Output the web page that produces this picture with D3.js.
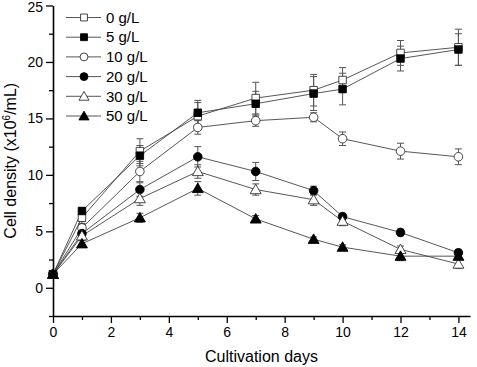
<!DOCTYPE html>
<html>
<head>
<meta charset="utf-8">
<script src="https://cdn.jsdelivr.net/npm/d3@7"></script>
<style>
  body { margin: 0; background: #fff; }
  svg { font-family: Arial, "Liberation Sans", sans-serif; }
</style>
</head>
<body>
<svg id="chart" width="477" height="367"></svg>
<script>
// cultivation days
var days = [0, 1, 3, 5, 7, 9, 10, 12, 14];

// cell density (x10^6/mL) per NaCl concentration, with error bars
var g0 = [1.2, 6.2, 12.1, 15.2, 16.8, 17.5, 18.4, 20.8, 21.3];
var g0Err = [0.2, 0.5, 1.1, 1.2, 1.4, 1.4, 1.1, 1.1, 1.6];
var g5 = [1.2, 6.8, 11.7, 15.5, 16.3, 17.2, 17.6, 20.3, 21.1];
var g5Err = [0.2, 0.3, 0.9, 1.1, 1.1, 1.5, 1.4, 1.1, 1.4];
var g10 = [1.2, 5.3, 10.3, 14.2, 14.8, 15.1, 13.2, 12.1, 11.6];
var g10Err = [0.2, 0.4, 0.9, 0.6, 0.5, 0.4, 0.6, 0.7, 0.7];
var g20 = [1.2, 4.8, 8.7, 11.6, 10.3, 8.6, 6.3, 4.9, 3.1];
var g20Err = [0.2, 0.4, 0.6, 0.9, 0.8, 0.4, 0.3, 0.3, 0.3];
var g30 = [1.2, 4.6, 7.9, 10.3, 8.7, 7.8, 5.9, 3.4, 2.1];
var g30Err = [0.2, 0.4, 0.6, 0.6, 0.5, 0.5, 0.4, 0.3, 0.4];
var g50 = [1.2, 3.9, 6.2, 8.8, 6.1, 4.3, 3.6, 2.8, 2.8];
var g50Err = [0.2, 0.3, 0.4, 0.6, 0.3, 0.2, 0.2, 0.4, 0.3];

var labels = ['0 g/L', '5 g/L', '10 g/L', '20 g/L', '30 g/L', '50 g/L'];
var xTicks = [0, 2, 4, 6, 8, 10, 12, 14];
var yTicks = [0, 5, 10, 15, 20, 25];

var series = [
  {name: labels[0], values: g0, err: g0Err, shape: d3.symbolSquare, filled: false},
  {name: labels[1], values: g5, err: g5Err, shape: d3.symbolSquare, filled: true},
  {name: labels[2], values: g10, err: g10Err, shape: d3.symbolCircle, filled: false},
  {name: labels[3], values: g20, err: g20Err, shape: d3.symbolCircle, filled: true},
  {name: labels[4], values: g30, err: g30Err, shape: d3.symbolTriangle, filled: false},
  {name: labels[5], values: g50, err: g50Err, shape: d3.symbolTriangle, filled: true}
];

var margin = {left: 53, top: 5.5, right: 7, bottom: 51},
    width = 477 - margin.left - margin.right,
    height = 367 - margin.top - margin.bottom;

var lineColor = '#444',
    errColor = '#555';

var svg = d3.select('#chart');
var g = svg.append('g')
    .attr('transform', 'translate(' + margin.left + ',' + margin.top + ')');

var x = d3.scaleLinear().domain([0, 14.4]).range([0, width]);
var y = d3.scaleLinear().domain([-2.5, 25]).range([height, 0]);

// axes, major + minor ticks
var xMinor = d3.range(1, 15, 2);
var yMinor = d3.range(-2.5, 25, 5);

g.append('g')
    .attr('transform', 'translate(0,' + height + ')')
    .call(d3.axisBottom(x).tickValues(xMinor).tickSize(4).tickFormat(''))
    .call(function(a) { a.select('.domain').remove(); });

g.append('g')
    .attr('transform', 'translate(0,' + height + ')')
    .call(d3.axisBottom(x).tickValues(xTicks).tickSize(7).tickSizeOuter(0).tickPadding(4));

g.append('g')
    .call(d3.axisLeft(y).tickValues(yMinor).tickSize(4).tickFormat(''))
    .call(function(a) { a.select('.domain').remove(); });

g.append('g')
    .call(d3.axisLeft(y).tickValues(yTicks).tickSize(7).tickSizeOuter(0).tickPadding(3));

g.selectAll('.domain').attr('stroke', '#000').attr('stroke-width', 1.6);
g.selectAll('.tick line').attr('stroke', '#000').attr('stroke-width', 1.3);
g.selectAll('.tick text').attr('font-size', 14).attr('fill', '#000')
    .attr('font-family', 'Arial, "Liberation Sans", sans-serif');

// keep the top label inside the picture
g.selectAll('.tick text').filter(function(d) { return d === 25; }).attr('dy', '0.45em');

// axis titles
svg.append('text')
    .attr('x', margin.left + width / 2)
    .attr('y', 362)
    .attr('text-anchor', 'middle')
    .attr('font-size', 16)
    .text('Cultivation days');

var yt = svg.append('text')
    .attr('transform', 'translate(16,' + (margin.top + height / 2) + ') rotate(-90)')
    .attr('text-anchor', 'middle')
    .attr('font-size', 16);
yt.append('tspan').text('Cell density (x10');
yt.append('tspan').attr('font-size', 10).attr('dy', -6).text('6');
yt.append('tspan').attr('dy', 6).text('/mL)');

// lines
var line = d3.line()
    .x(function(d, i) { return x(days[i]); })
    .y(function(d) { return y(d); });

series.forEach(function(s) {
  g.append('path')
      .datum(s.values)
      .attr('fill', 'none')
      .attr('stroke', lineColor)
      .attr('stroke-width', 0.9)
      .attr('d', line);
});

// error bars
series.forEach(function(s) {
  var eb = g.append('g').attr('stroke', errColor).attr('stroke-width', 1);
  s.values.forEach(function(v, i) {
    var cx = x(days[i]);
    eb.append('line')
        .attr('x1', cx).attr('x2', cx)
        .attr('y1', y(v - s.err[i])).attr('y2', y(v + s.err[i]));
    [v - s.err[i], v + s.err[i]].forEach(function(e) {
      eb.append('line')
          .attr('x1', cx - 3.5).attr('x2', cx + 3.5)
          .attr('y1', y(e)).attr('y2', y(e));
    });
  });
});

// markers
function symbolSize(shape) {
  if (shape === d3.symbolSquare) return 56;
  if (shape === d3.symbolCircle) return 58;
  return 52;
}

series.forEach(function(s) {
  g.append('g').selectAll('path')
      .data(s.values)
      .join('path')
      .attr('transform', function(d, i) {
        var dy = s.shape === d3.symbolTriangle ? 1 : 0;
        return 'translate(' + x(days[i]) + ',' + (y(d) + dy) + ')';
      })
      .attr('d', d3.symbol().type(s.shape).size(symbolSize(s.shape)))
      .attr('fill', s.filled ? '#000' : '#fff')
      .attr('stroke', s.filled ? '#000' : '#333')
      .attr('stroke-width', 0.9);
});

// legend
var legend = svg.append('g');
series.forEach(function(s, i) {
  var ly = 17.5 + i * 19.7;
  legend.append('line')
      .attr('x1', 66).attr('x2', 101)
      .attr('y1', ly).attr('y2', ly)
      .attr('stroke', lineColor).attr('stroke-width', 0.9);
  legend.append('path')
      .attr('transform', 'translate(84,' + (s.shape === d3.symbolTriangle ? ly + 1 : ly) + ')')
      .attr('d', d3.symbol().type(s.shape).size(symbolSize(s.shape) * 0.85))
      .attr('fill', s.filled ? '#000' : '#fff')
      .attr('stroke', s.filled ? '#000' : '#333')
      .attr('stroke-width', 0.9);
  legend.append('text')
      .attr('x', 106)
      .attr('y', ly)
      .attr('dy', '0.35em')
      .attr('font-size', 15)
      .text(s.name);
});
</script>
</body>
</html>
